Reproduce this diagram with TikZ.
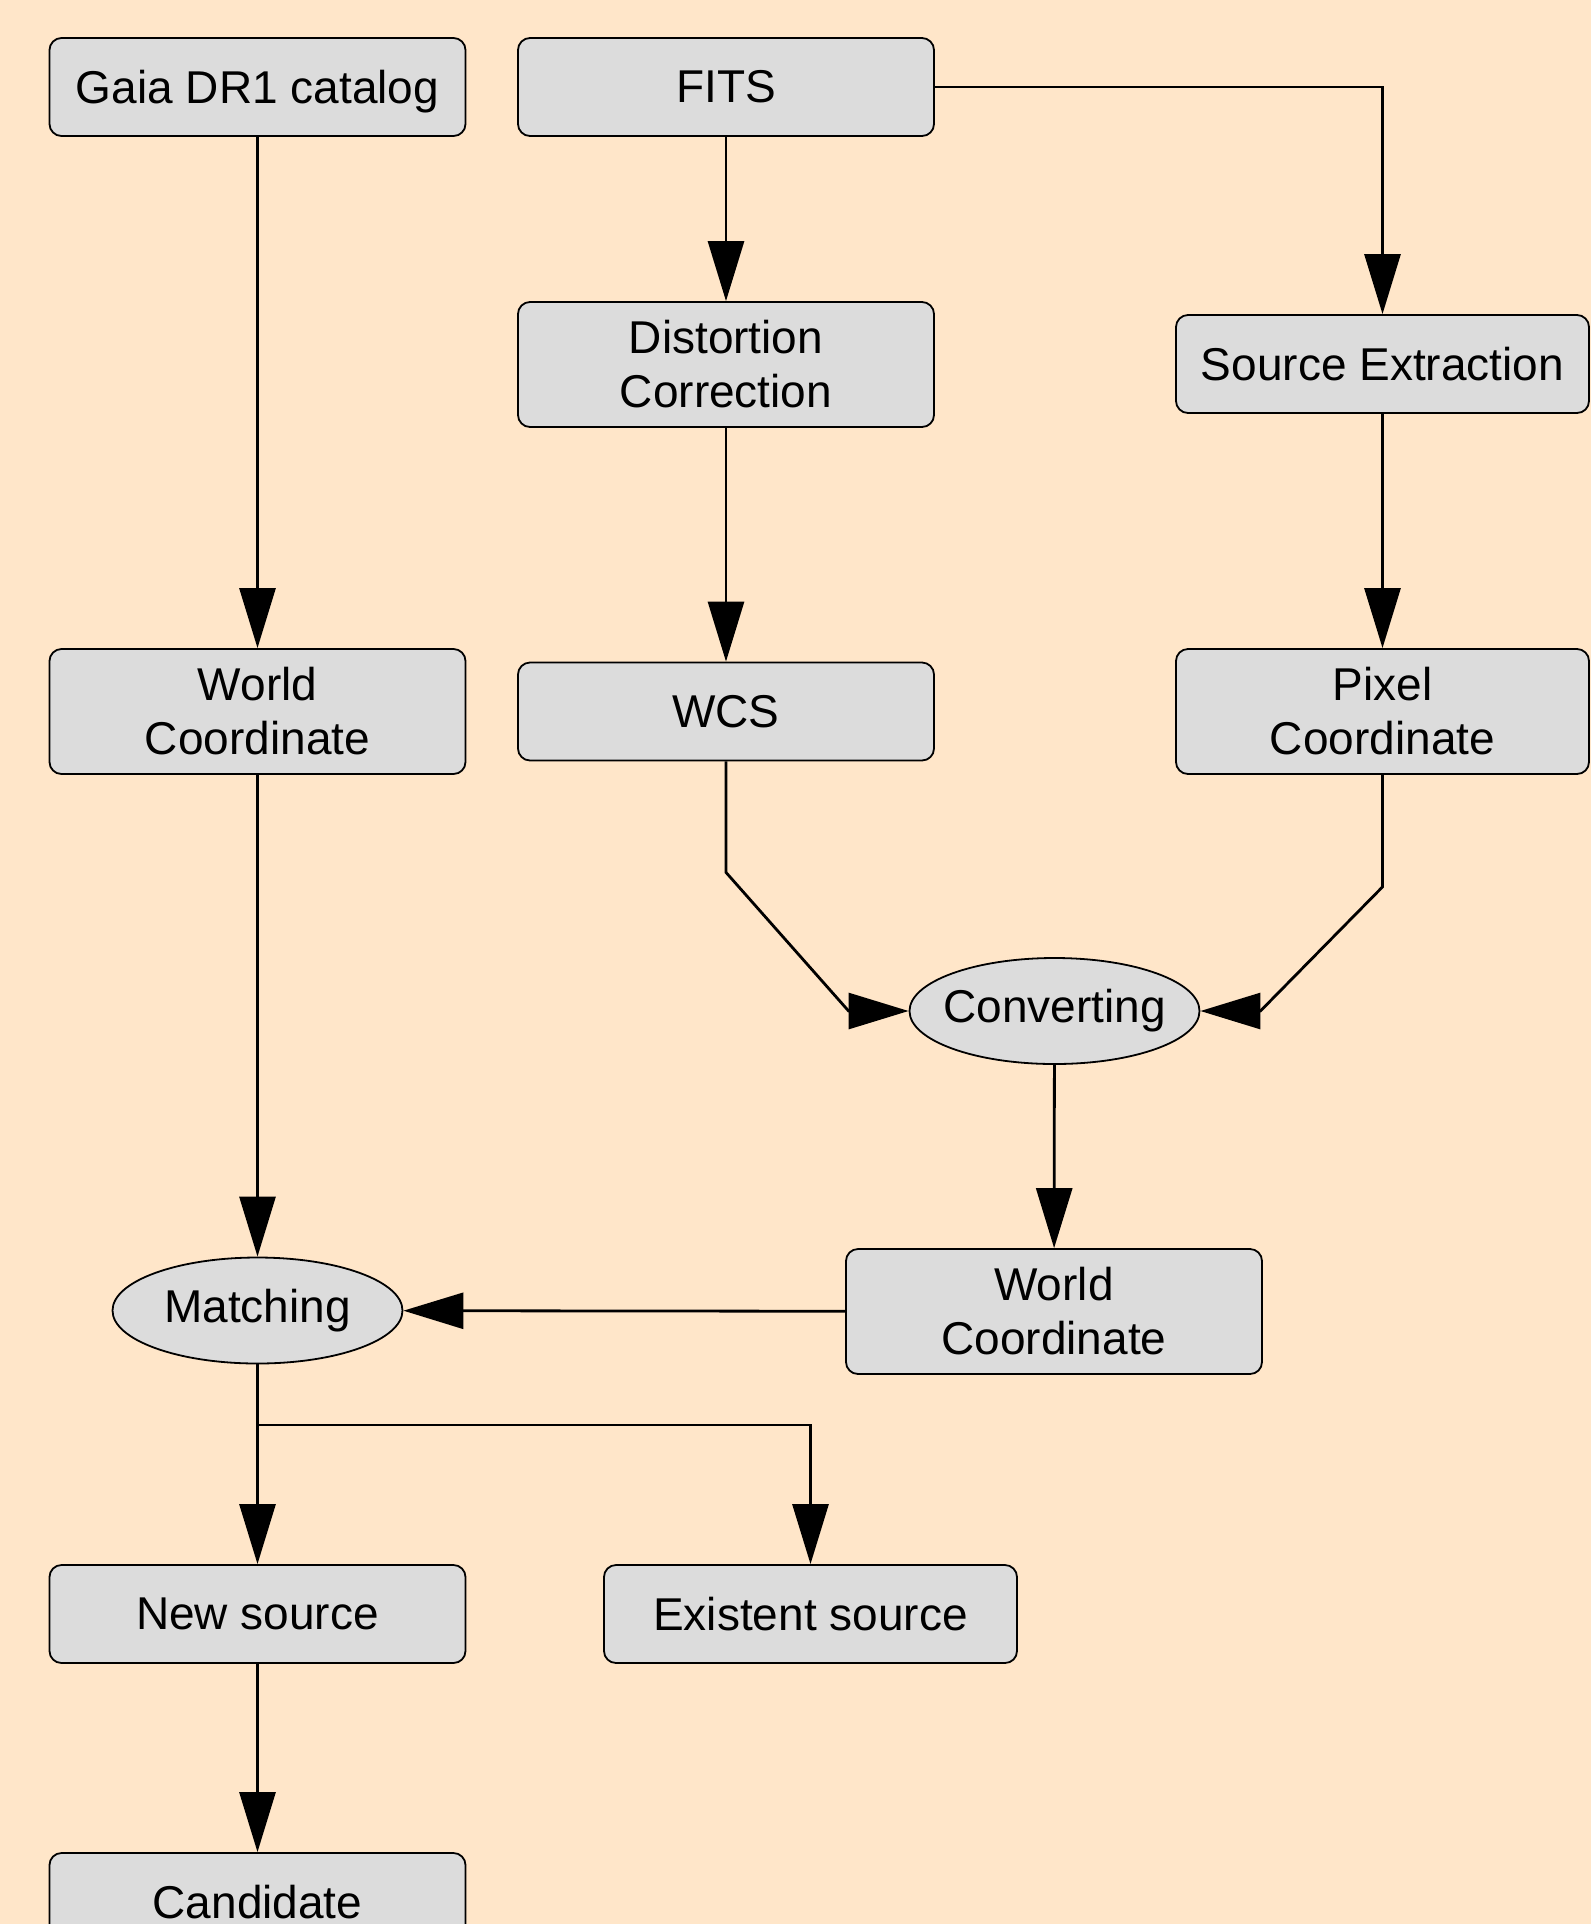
\documentclass[tikz,border=0pt]{standalone}
\usepackage{fontspec}
\setmainfont{Liberation Sans}
\usetikzlibrary{arrows.meta,shapes.geometric}
\definecolor{flowbg}{HTML}{FFE6C9}
\definecolor{boxgray}{HTML}{DCDCDC}
\tikzset{
  stage/.style={draw,fill=boxgray,rounded corners=6pt,line width=0.9pt,minimum width=208pt,minimum height=49pt,inner sep=0pt,align=center,font=\fontsize{23}{27}\selectfont},
  stagetall/.style={stage,minimum height=62.5pt},
  task/.style={ellipse,draw,fill=boxgray,line width=0.9pt,minimum width=145pt,minimum height=53pt,inner sep=0pt,font=\fontsize{23}{27}\selectfont},
  flow/.style={line width=1.4pt,-{Triangle[length=30pt,width=18pt]}}
}

\begin{document}
\begin{tikzpicture}[x=0.5pt,y=-0.5pt]
  % page and background
  \fill[flowbg] (0,0) rectangle (1591,1924);
  \useasboundingbox (0,0) rectangle (1591,1924);
  % top row
  \node[stage,text depth=0pt] (gaia) at (257.5,87) {Gaia DR1 catalog};
  \node[stage] (fits) at (726,87) {FITS};
  \node[stagetall] (dist) at (726,364.5) {Distortion\\Correction};
  \node[stage,minimum width=206.5pt] (srcx) at (1382.5,364) {Source Extraction};
  % coordinates
  \node[stagetall] (worldA) at (257.5,711.5) {World\\Coordinate};
  \node[stage] (wcs) at (726,711.5) {WCS};
  \node[stagetall,minimum width=206.5pt] (pixel) at (1382.5,711.5) {Pixel\\Coordinate};
  \node[task,inner xsep=-5pt] (conv) at (1054.5,1011) {Converting};
  \node[stagetall] (worldB) at (1054,1311.5) {World\\Coordinate};
  % matching and results
  \node[task] (match) at (257.5,1310.5) {Matching};
  \node[stage] (newsrc) at (257.5,1614) {New source};
  \node[stage,minimum width=206.5pt] (oldsrc) at (810.5,1614) {Existent source};
  \node[stage] (cand) at (257.5,1902) {Candidate};
  \coordinate (split) at (257.5,1425);

  \draw[flow] (gaia) -- (worldA);
  \draw[flow] (fits) -- (dist);
  \draw[flow] (fits.east) -| (srcx.north);
  \draw[flow] (dist) -- (wcs);
  \draw[flow] (srcx) -- (pixel);
  \draw[flow] (wcs.south) -- ++(0,111) -- ([xshift=-30pt]conv.west) -- (conv.west);
  \draw[flow] (pixel.south) -- ++(0,112) -- ([xshift=30pt]conv.east) -- (conv.east);
  \draw[flow] (conv) -- (worldB);
  \draw[flow] (worldB) -- (match);
  \draw[flow] (worldA) -- (match);
  \draw[flow] (match) -- (newsrc);
  \draw[flow] (split) -| (oldsrc.north);
  \draw[flow] (newsrc) -- (cand);
\end{tikzpicture}
\end{document}
